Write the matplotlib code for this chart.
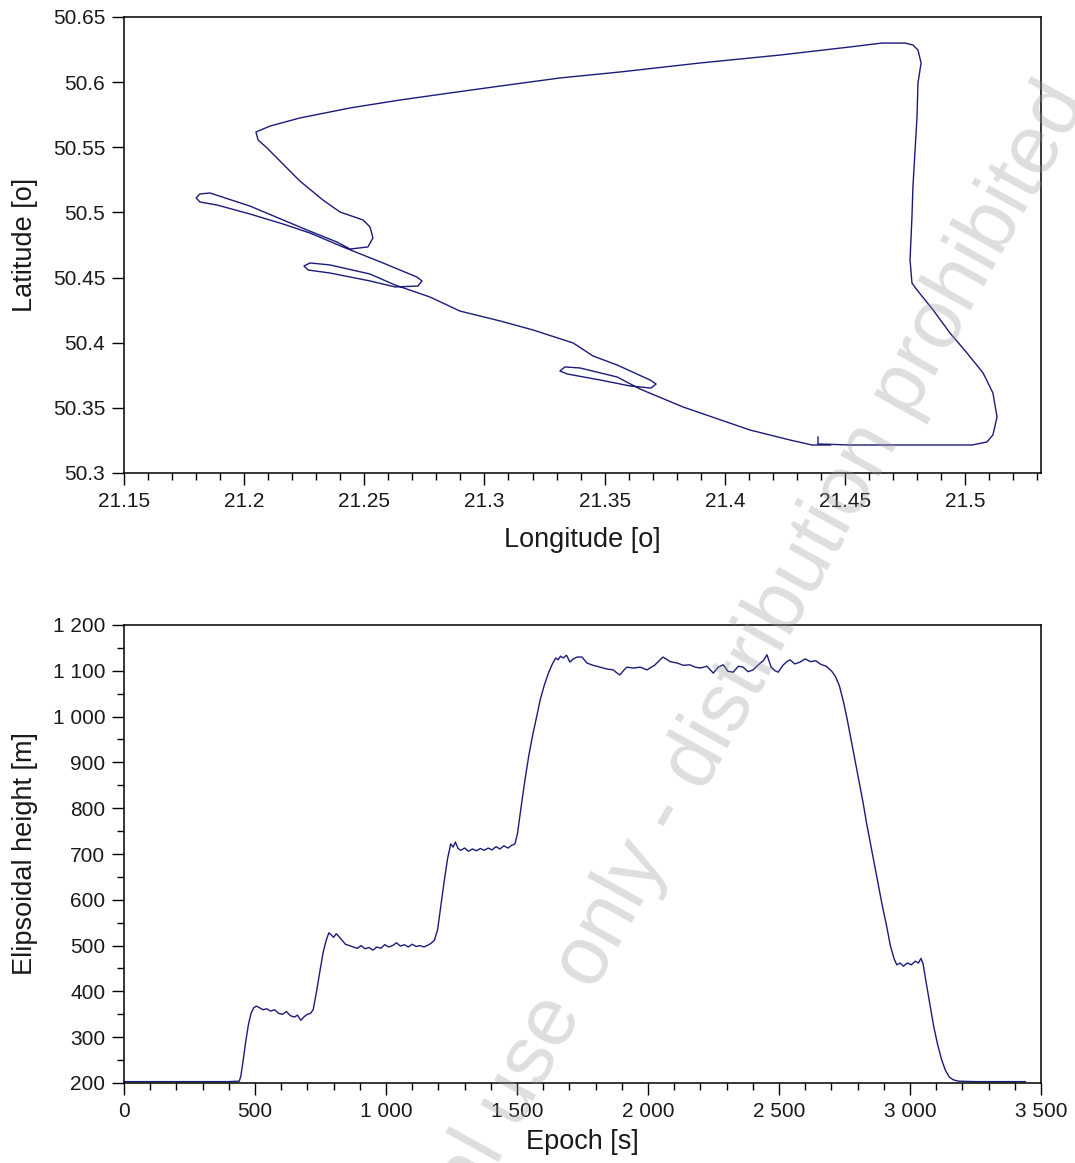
import matplotlib
matplotlib.use("Agg")
import matplotlib.pyplot as plt
from matplotlib.ticker import MultipleLocator, FuncFormatter

plt.rcParams['font.family'] = ['Liberation Sans', 'DejaVu Sans']

# flight track (degrees)
lon = [21.4388, 21.4388, 21.4521, 21.4854, 21.5029, 21.5091, 21.5116, 21.5133, 21.5116, 21.5075,
       21.5008, 21.4937, 21.4867, 21.4800, 21.4779, 21.4771, 21.4779, 21.4783, 21.4792, 21.4800,
       21.4804, 21.4817, 21.4804, 21.4783, 21.4750, 21.4654, 21.4521, 21.4230, 21.3897, 21.3564,
       21.3314, 21.3065, 21.2857, 21.2649, 21.2441, 21.2232, 21.2108, 21.2049, 21.2058, 21.2095,
       21.2178, 21.2232, 21.2328, 21.2399, 21.2495, 21.2524, 21.2536, 21.2515, 21.2441, 21.2386,
       21.2262, 21.2162, 21.2024, 21.1858, 21.1816, 21.1800, 21.1816, 21.1887, 21.2024, 21.2162,
       21.2274, 21.2411, 21.2578, 21.2719, 21.2740, 21.2723, 21.2628, 21.2524, 21.2357, 21.2266,
       21.2249, 21.2274, 21.2357, 21.2524, 21.2628, 21.2773, 21.2898, 21.3065, 21.3202, 21.3369,
       21.3452, 21.3552, 21.3689, 21.3714, 21.3693, 21.3606, 21.3481, 21.3344, 21.3314, 21.3335,
       21.3398, 21.3552, 21.3647, 21.3826, 21.4105, 21.4272, 21.4363, 21.4440]
lat = [50.3276, 50.3223, 50.3215, 50.3215, 50.3215, 50.3238, 50.3292, 50.3430, 50.3614, 50.3768,
       50.3921, 50.4075, 50.4251, 50.4405, 50.4458, 50.4635, 50.4965, 50.5195, 50.5479, 50.5732,
       50.5993, 50.6147, 50.6247, 50.6285, 50.6300, 50.6300, 50.6270, 50.6208, 50.6147, 50.6078,
       50.6032, 50.5970, 50.5917, 50.5863, 50.5802, 50.5725, 50.5663, 50.5617, 50.5556, 50.5495,
       50.5341, 50.5241, 50.5095, 50.5003, 50.4942, 50.4888, 50.4804, 50.4735, 50.4719, 50.4773,
       50.4865, 50.4942, 50.5049, 50.5149, 50.5142, 50.5111, 50.5080, 50.5057, 50.4988, 50.4911,
       50.4842, 50.4735, 50.4612, 50.4504, 50.4474, 50.4435, 50.4428, 50.4474, 50.4535, 50.4558,
       50.4589, 50.4612, 50.4597, 50.4527, 50.4443, 50.4351, 50.4243, 50.4167, 50.4098, 50.3998,
       50.3898, 50.3829, 50.3714, 50.3683, 50.3652, 50.3668, 50.3714, 50.3760, 50.3783, 50.3814,
       50.3806, 50.3737, 50.3645, 50.3507, 50.3330, 50.3253, 50.3215, 50.3215]

# ellipsoidal height vs epoch
epoch_s = [0, 100, 200, 300, 400, 440, 446, 455, 465, 475,
           485, 495, 505, 515, 530, 545, 560, 575, 590, 605,
           620, 635, 650, 662, 675, 688, 700, 712, 722, 735,
           748, 760, 772, 782, 790, 800, 810, 820, 832, 845,
           860, 875, 890, 905, 920, 935, 950, 965, 980, 995,
           1010, 1025, 1040, 1055, 1070, 1085, 1100, 1115, 1130, 1145,
           1160, 1172, 1185, 1197, 1210, 1222, 1235, 1247, 1256, 1265,
           1275, 1285, 1300, 1315, 1330, 1345, 1360, 1375, 1390, 1405,
           1420, 1435, 1450, 1465, 1480, 1492, 1502, 1515, 1530, 1545,
           1560, 1575, 1590, 1605, 1620, 1635, 1648, 1657, 1666, 1676,
           1689, 1702, 1715, 1729, 1748, 1767, 1790, 1817, 1842, 1867,
           1880, 1893, 1907, 1920, 1945, 1970, 1996, 2025, 2057, 2085,
           2111, 2135, 2160, 2180, 2199, 2225, 2249, 2268, 2287, 2305,
           2325, 2345, 2363, 2382, 2401, 2425, 2440, 2454, 2470, 2485,
           2497, 2515, 2530, 2542, 2560, 2580, 2600, 2620, 2640, 2660,
           2680, 2700, 2715, 2730, 2745, 2760, 2775, 2790, 2805, 2820,
           2835, 2850, 2865, 2880, 2895, 2910, 2925, 2940, 2950, 2962,
           2975, 2990, 3005, 3020, 3032, 3042, 3050, 3060, 3075, 3090,
           3105, 3120, 3135, 3150, 3165, 3185, 3250, 3350, 3440]
height_m = [203, 203, 203, 203, 203, 204, 215, 250, 292, 328,
            352, 364, 368, 365, 360, 362, 357, 360, 352, 350,
            356, 347, 344, 348, 337, 345, 350, 352, 360, 400,
            445, 485, 512, 528, 524, 518, 526, 520, 512, 503,
            500, 497, 494, 500, 493, 496, 490, 497, 494, 502,
            497, 500, 506, 499, 502, 497, 503, 498, 500, 497,
            501, 505, 512, 535, 590, 640, 690, 722, 715, 726,
            712, 708, 713, 706, 711, 707, 712, 708, 713, 709,
            716, 711, 718, 713, 719, 722, 745, 800, 860, 915,
            960, 1000, 1040, 1070, 1095, 1115, 1128, 1124, 1132, 1128,
            1134, 1119, 1126, 1130, 1130, 1117, 1112, 1108, 1104, 1102,
            1096, 1091, 1101, 1108, 1106, 1108, 1102, 1112, 1130, 1120,
            1117, 1112, 1113, 1108, 1106, 1110, 1095, 1108, 1113, 1099,
            1097, 1110, 1108, 1098, 1102, 1115, 1122, 1135, 1108, 1100,
            1097, 1112, 1120, 1124, 1115, 1119, 1126, 1120, 1122, 1114,
            1110, 1100, 1088, 1068, 1035, 995, 950, 905, 860, 815,
            765, 720, 675, 630, 585, 545, 500, 470, 458, 462,
            455, 462, 458, 466, 462, 472, 460, 425, 375, 325,
            285, 252, 228, 213, 207, 204, 203, 203, 203]

line_col = '#1b1b7a'
txt_col = '#1a1a1a'


def style(ax):
    for s in ax.spines.values():
        s.set_linewidth(1.1)
        s.set_color('black')
    ax.tick_params(which='major', direction='out', length=8.5, width=1.0,
                   labelsize=15, pad=5, colors='black', labelcolor=txt_col)
    ax.tick_params(which='minor', direction='out', length=5, width=1.0, colors='black')
    ax.tick_params(top=False, right=False)


fig = plt.figure(figsize=(10.75, 11.63), dpi=100)

ax1 = fig.add_axes([124 / 1075, 1 - 473 / 1163, 917 / 1075, 456 / 1163])
ax1.plot(lon, lat, color=line_col, linewidth=1.0)
ax1.set_xlim(21.15, 21.5316)
ax1.set_ylim(50.3, 50.65)
ax1.xaxis.set_major_locator(MultipleLocator(0.05))
ax1.xaxis.set_minor_locator(MultipleLocator(0.01))
ax1.yaxis.set_major_locator(MultipleLocator(0.05))
fmt_g = FuncFormatter(lambda v, p: f"{v:g}")
ax1.xaxis.set_major_formatter(fmt_g)
ax1.yaxis.set_major_formatter(fmt_g)
style(ax1)
ax1.set_xlabel("Longitude [o]", fontsize=19.5, color=txt_col)
ax1.set_ylabel("Latitude [o]", fontsize=19.5, color=txt_col)
ax1.xaxis.set_label_coords(0.5, -0.118)
ax1.yaxis.set_label_coords(-0.094, 0.5)

ax2 = fig.add_axes([124 / 1075, 1 - 1083 / 1163, 917 / 1075, 458 / 1163])
ax2.plot(epoch_s, height_m, color=line_col, linewidth=1.0)
ax2.set_xlim(0, 3500)
ax2.set_ylim(200, 1200)
ax2.xaxis.set_major_locator(MultipleLocator(500))
ax2.xaxis.set_minor_locator(MultipleLocator(100))
ax2.yaxis.set_major_locator(MultipleLocator(100))
ax2.yaxis.set_minor_locator(MultipleLocator(50))
fmt_sp = FuncFormatter(lambda v, p: f"{int(round(v)):,}".replace(",", " "))
ax2.xaxis.set_major_formatter(fmt_sp)
ax2.yaxis.set_major_formatter(fmt_sp)
style(ax2)
ax2.set_xlabel("Epoch [s]", fontsize=19.5, color=txt_col)
ax2.set_ylabel("Elipsoidal height [m]", fontsize=19.5, color=txt_col)
ax2.xaxis.set_label_coords(0.5, -0.1)
ax2.yaxis.set_label_coords(-0.094, 0.5)

# watermark
fig.text(1088 / 1075, 1 - 100 / 1163, "For personal use only - distribution prohibited",
         rotation=61, rotation_mode='anchor', ha='right', va='baseline',
         fontsize=60, color='#9a9a9a', alpha=0.32)

plt.savefig("out.png", dpi=100)
plt.close()
